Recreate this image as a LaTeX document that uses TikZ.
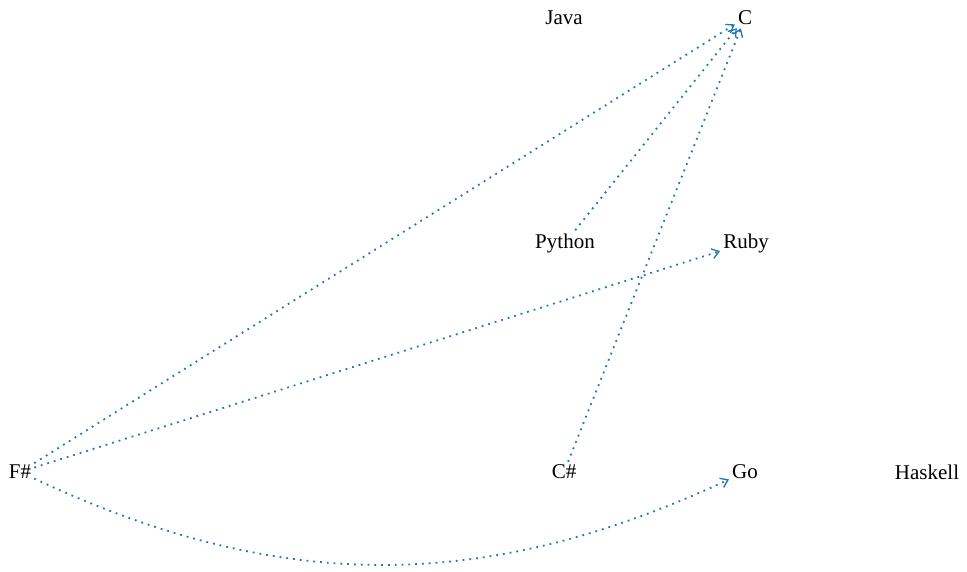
\documentclass[tikz,border=0pt]{standalone}
\usepackage{fontspec}
\setmainfont{Liberation Serif}
\usetikzlibrary{arrows.meta}
\definecolor{edgeblue}{HTML}{1F77B4}
\begin{document}
\begin{tikzpicture}[x=1pt,y=1pt,
  lang/.style={inner sep=3pt, font=\fontsize{21}{25}\selectfont},
  link/.style={draw=edgeblue, line width=1.8pt, dash pattern=on 1.8pt off 5pt,
    -{Straight Barb[length=7pt,width=10pt,line width=1.3pt]}}]
\useasboundingbox (0,0) rectangle (967,571);
\node[lang] (java) at (564,553) {Java};
\node[lang] (c) at (745,553) {C};
\node[lang] (python) at (565,328) {Python};
\node[lang] (ruby) at (746,328) {Ruby};
\node[lang] (fs) at (20,99) {F\#};
\node[lang] (cs) at (564,99) {C\#};
\node[lang] (go) at (745,99) {Go};
\node[lang] (haskell) at (927,99) {Haskell};
\draw[link] (fs) -- (c);
\draw[link] (python) -- (c);
\draw[link] (cs) -- (c);
\draw[link] (fs) -- (ruby);
\draw[link] (fs) to[bend right=25] (go);
\end{tikzpicture}
\end{document}
